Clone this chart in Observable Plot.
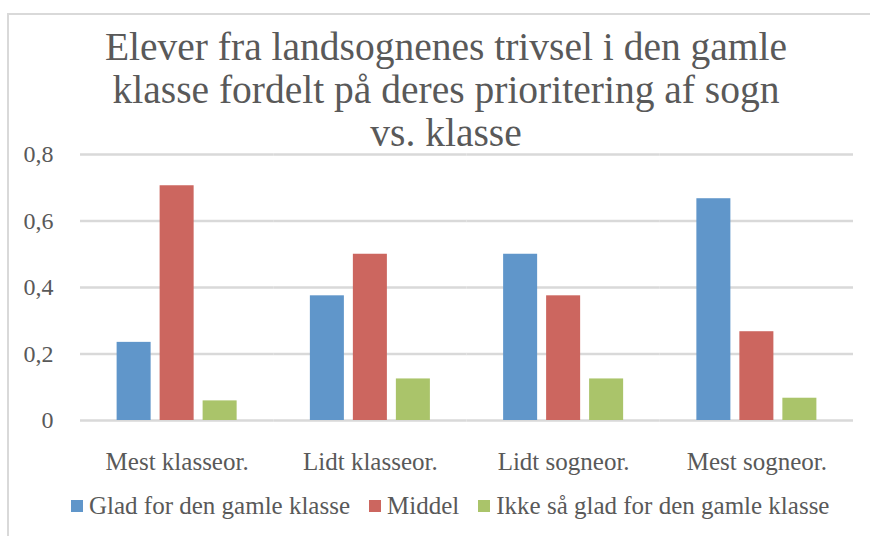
<!DOCTYPE html>
<html>
<head>
<meta charset="utf-8">
<script src="https://cdn.jsdelivr.net/npm/d3@7"></script>
<script src="https://cdn.jsdelivr.net/npm/@observablehq/plot@0.6"></script>
<style>
  body { margin: 0; background: #fff; }
  #wrap { position: relative; width: 870px; height: 536px; overflow: hidden; background: #fff;
          font-family: "Liberation Serif", serif; color: #595959; }
  #frame { position: absolute; left: 7px; top: 13px; width: 900px; height: 600px;
           border-left: 2px solid #d9d9d9; border-top: 2px solid #d9d9d9; }
  #title { position: absolute; left: 0; top: 26px; width: 892px; text-align: center;
           font-family: "Liberation Serif", serif; font-size: 39.5px; line-height: 43px; z-index: 2; }
  #chart { position: absolute; left: 0; top: 130px; }
  #legend { position: absolute; left: 71px; top: 492px; display: flex; align-items: center;
            font-family: "Liberation Serif", serif; font-size: 25px; line-height: 28px; white-space: nowrap; }
  .item { display: flex; align-items: center; margin-right: 19px; }
  .sw { width: 12px; height: 12px; margin-right: 6px; }
</style>
</head>
<body>
<div id="wrap">
  <div id="frame"></div>
  <div id="title">Elever fra landsognenes trivsel i den gamle<br>klasse fordelt på deres prioritering af sogn<br>vs. klasse</div>
  <div id="chart"></div>
  <div id="legend"></div>
</div>
<script>
const categories = ["Mest klasseor.", "Lidt klasseor.", "Lidt sogneor.", "Mest sogneor."];
const seriesNames = ["Glad for den gamle klasse", "Middel", "Ikke så glad for den gamle klasse"];
const gladValues = [0.235, 0.375, 0.5, 0.667];
const middelValues = [0.706, 0.5, 0.375, 0.267];
const ikkeValues = [0.059, 0.125, 0.125, 0.067];
const yTicks = [0, 0.2, 0.4, 0.6, 0.8];
const colors = ["#6096CA", "#CC665F", "#AAC46A"];

const seriesValues = [gladValues, middelValues, ikkeValues];
const data = [];
categories.forEach((c, i) => {
  seriesNames.forEach((s, j) => data.push({cat: c, series: s, value: seriesValues[j][i]}));
});

const fmt = d => d === 0 ? "0" : d3.format(".1f")(d).replace(".", ",");

const plot = Plot.plot({
  width: 870,
  height: 360,
  marginTop: 24,
  marginBottom: 70,
  marginLeft: 80,
  marginRight: 17,
  style: {fontFamily: "Liberation Serif, serif", fontSize: "25px", color: "#595959", background: "transparent", overflow: "visible"},
  fx: {domain: categories, paddingInner: 0, paddingOuter: 0, round: false, axis: null},
  x: {domain: seriesNames, paddingInner: 0.209, paddingOuter: 0.8516, round: false, axis: null},
  y: {domain: [0, 0.8], axis: null},
  color: {domain: seriesNames, range: colors},
  marks: [
    Plot.ruleY(yTicks, {stroke: "#d9d9d9", strokeWidth: 2.5}),
    Plot.barY(data, {fx: "cat", x: "series", y: "value", fill: "series"}),
    Plot.axisY({ticks: yTicks, tickSize: 0, tickPadding: 27, tickFormat: fmt, label: null, fontSize: 24}),
    Plot.axisFx({anchor: "bottom", tickSize: 0, tickPadding: 32, label: null, fontSize: 25})
  ]
});
document.getElementById("chart").appendChild(plot);

const legend = document.getElementById("legend");
seriesNames.forEach((s, j) => {
  const item = document.createElement("div");
  item.className = "item";
  const sw = document.createElement("div");
  sw.className = "sw";
  sw.style.background = colors[j];
  const t = document.createElement("span");
  t.textContent = s;
  item.appendChild(sw);
  item.appendChild(t);
  legend.appendChild(item);
});
</script>
</body>
</html>
